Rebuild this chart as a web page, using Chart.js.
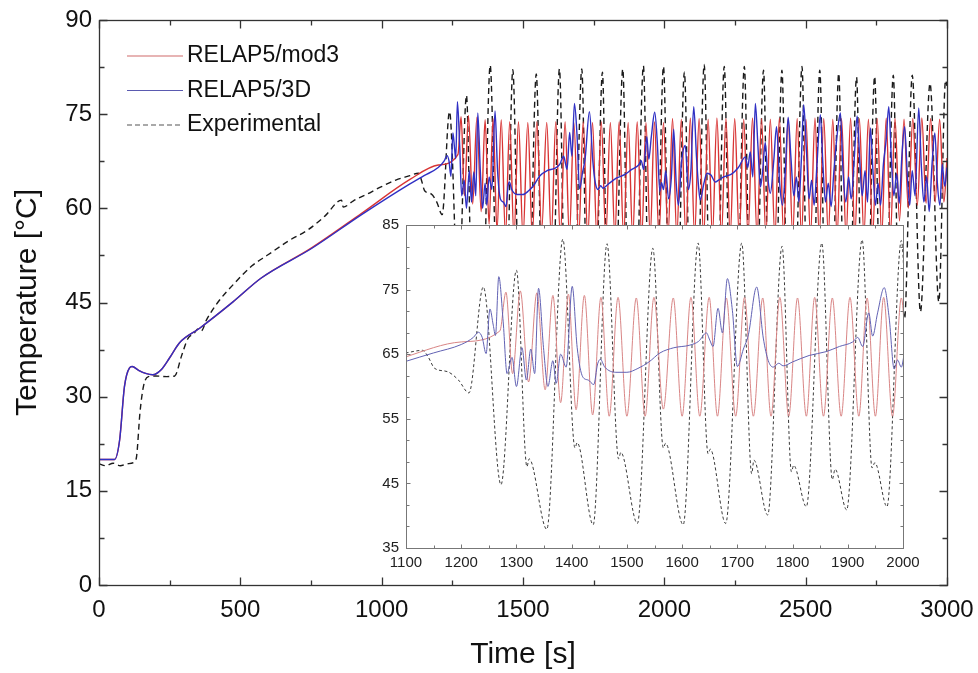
<!DOCTYPE html>
<html>
<head>
<meta charset="utf-8">
<script src="https://cdn.jsdelivr.net/npm/chart.js@4.4.1/dist/chart.umd.min.js"></script>
<style>
  html, body { margin: 0; padding: 0; background: #fff; }
  #wrap { position: relative; width: 978px; height: 673px; }
  #main { position: absolute; left: 0; top: 0; }
  #inset { position: absolute; left: 330px; top: 205px; }
</style>
</head>
<body>
<div id="wrap">
  <canvas id="main" width="978" height="673"></canvas>
  <canvas id="inset" width="620" height="385"></canvas>
</div>
<script>
// series names
const seriesNames = ["RELAP5/mod3", "RELAP5/3D", "Experimental"];

// RELAP5/mod3 (time s, temperature C)
const mod3Time = [0, 55, 73, 90, 108, 117, 140, 165, 190, 220, 250, 285, 356, 474, 574, 752, 929, 1100, 1200, 1270,
  1281, 1293, 1307, 1322, 1337, 1352, 1366, 1380, 1394, 1408, 1423, 1438, 1453, 1468, 1484, 1500, 1517, 1533, 1549, 1566,
  1584, 1600, 1616, 1632, 1649, 1664, 1680, 1697, 1713, 1729, 1746, 1761, 1777, 1793, 1809, 1825, 1840, 1856, 1872, 1888,
  1904, 1920, 1935, 1950, 1965, 1981, 1997,
  2013, 2029, 2044, 2060, 2076, 2092, 2107, 2123, 2139, 2155, 2170, 2186, 2202, 2218, 2233, 2249, 2265, 2281, 2296, 2312,
  2328, 2344, 2359, 2375, 2391, 2407, 2422, 2438, 2454, 2470, 2485, 2501, 2517, 2533, 2548, 2564, 2580, 2596, 2611, 2627,
  2643, 2659, 2674, 2690, 2706, 2722, 2737, 2753, 2769, 2785, 2800, 2816, 2832, 2848, 2863, 2879, 2895, 2911, 2926, 2942,
  2958, 2974, 2989, 3000];
const mod3Temp = [20.0, 20.0, 23.1, 31.6, 34.6, 34.8, 34.2, 33.7, 33.5, 34.3, 36.2, 38.6, 40.9, 45.1, 48.9, 53.7, 59.2, 64.6, 66.9, 68.6,
  74.6, 62.0, 74.8, 60.7, 74.5, 59.5, 74.1, 57.5, 74.3, 56.4, 74.1, 55.6, 73.8, 55.4, 73.8, 55.4, 73.7, 55.4, 73.8, 56.5,
  73.7, 55.4, 73.8, 55.4, 73.8, 55.4, 73.7, 55.4, 73.8, 55.4, 73.7, 55.4, 73.8, 55.4, 73.7, 55.4, 73.8, 55.4, 73.7, 55.4,
  73.8, 55.4, 73.7, 55.4, 73.8, 55.4, 73.7,
  55.5, 74.3, 55.4, 74.2, 55.6, 74.4, 55.5, 74.3, 55.4, 74.2, 55.5, 74.4, 55.6, 74.3, 55.5, 74.3, 55.4, 74.2, 55.5, 74.4,
  55.6, 74.3, 55.5, 74.2, 55.4, 74.4, 55.5, 74.3, 55.6, 74.3, 55.5, 74.2, 55.4, 74.4, 55.5, 74.3, 55.6, 74.2, 55.5, 74.3,
  55.4, 74.4, 55.5, 74.3, 55.6, 74.2, 55.5, 74.3, 55.6, 74.4, 55.8, 74.3, 58.0, 74.2, 60.0, 74.3, 60.5, 74.4, 60.8, 74.3,
  61.0, 74.2, 61.0, 68.0];

// RELAP5/3D
const r3dTime = [0, 55, 73, 90, 108, 117, 140, 165, 190, 220,
  250, 285, 356, 474, 574, 752, 929, 1100, 1150, 1200,
  1222, 1231, 1238, 1245, 1252, 1258, 1262, 1268, 1276, 1283,
  1292, 1300, 1310, 1318, 1326, 1333, 1340, 1349, 1357, 1366,
  1372, 1380, 1390, 1401, 1410, 1420, 1430, 1440, 1447, 1452,
  1460, 1480, 1500, 1520, 1540, 1560, 1585, 1614, 1630, 1644,
  1650, 1656, 1665, 1673, 1682, 1691, 1700, 1711, 1720, 1735,
  1747, 1756, 1765, 1775, 1783, 1800, 1830, 1861, 1885, 1909,
  1918, 1927, 1938, 1945, 1954, 1966, 1975, 1984, 1990, 1997,
  2005, 2015, 2025, 2033, 2042, 2050, 2060, 2074, 2085, 2094,
  2104, 2114, 2122, 2127, 2140, 2151, 2165, 2180, 2192, 2210,
  2239, 2262, 2287, 2295, 2304, 2313, 2322, 2331, 2340, 2348,
  2357, 2366, 2375, 2387, 2397, 2408, 2418, 2428, 2438, 2448,
  2458, 2467, 2476, 2485, 2493, 2503, 2512, 2521, 2530, 2540,
  2552, 2561, 2570, 2580, 2590, 2600, 2612, 2623, 2632, 2642,
  2652, 2661, 2672, 2682, 2692, 2700, 2710, 2719, 2729, 2738,
  2747, 2756, 2765, 2775, 2785, 2794, 2803, 2812, 2822, 2831,
  2840, 2850, 2860, 2868, 2877, 2887, 2900, 2909, 2918, 2928,
  2937, 2947, 2957, 2966, 2975, 2983, 2992, 3000];
const r3dTemp = [20.0, 20.0, 23.1, 31.6, 34.6, 34.8, 34.2, 33.7, 33.5, 34.3,
  36.2, 38.6, 40.9, 45.1, 48.9, 53.6, 59.0, 63.9, 65.2, 66.5,
  67.6, 68.4, 67.6, 65.1, 72.0, 69.5, 67.9, 77.0, 70.0, 62.0,
  64.5, 60.0, 66.0, 61.0, 65.8, 62.0, 75.2, 66.0, 60.0, 64.0,
  60.5, 65.0, 63.0, 75.5, 66.0, 61.5, 61.0, 60.3, 63.5, 64.2,
  63.0, 62.2, 62.2, 62.8, 63.8, 65.2, 66.0, 66.4, 67.0, 68.3,
  67.2, 66.2, 72.1, 68.3, 76.7, 71.8, 63.1, 65.8, 68.0, 75.4,
  67.5, 64.0, 63.0, 63.6, 63.2, 63.8, 64.8, 65.4, 66.2, 66.9,
  67.6, 66.2, 71.4, 67.8, 71.4, 75.3, 70.6, 62.7, 64.1, 63.0,
  66.0, 61.5, 65.0, 72.6, 64.0, 60.5, 67.0, 70.0, 63.0, 66.0,
  76.2, 68.0, 63.0, 61.3, 64.0, 65.6, 65.3, 64.2, 64.5, 65.0,
  65.5, 66.5, 68.2, 66.5, 69.0, 65.0, 76.7, 70.0, 63.4, 66.0,
  70.5, 65.0, 62.4, 67.5, 73.0, 64.0, 60.5, 66.0, 74.5, 68.0,
  62.0, 65.0, 61.0, 68.0, 76.5, 69.0, 61.5, 64.5, 60.5, 67.0,
  74.9, 67.0, 61.0, 64.0, 60.3, 66.0, 72.0, 75.2, 66.0, 61.0,
  65.0, 61.5, 68.0, 74.7, 67.0, 62.0, 66.0, 61.0, 72.8, 66.0,
  60.5, 64.0, 60.5, 67.0, 71.0, 76.2, 68.0, 62.0, 65.5, 60.8,
  68.0, 73.0, 65.0, 60.5, 66.0, 62.0, 76.0, 67.0, 61.0, 65.0,
  59.5, 67.0, 72.0, 64.0, 60.5, 67.0, 63.5, 66.5];

// Experimental
const expTime = [0, 25, 50, 75, 100, 125, 133, 145, 158, 175,
  200, 240, 268, 292, 315, 335, 350, 362, 380, 420,
  480, 540, 598, 670, 740, 800, 858, 864, 900, 950,
  988, 1050, 1100, 1130, 1140, 1152, 1175, 1195, 1214, 1240,
  1272, 1300, 1319, 1323, 1355, 1384, 1406, 1410, 1439, 1464,
  1485, 1489, 1519, 1547, 1566, 1570, 1602, 1629, 1647, 1651,
  1679, 1708, 1726, 1730, 1755, 1781, 1798, 1802, 1825, 1853,
  1872, 1877, 1898, 1926, 1944, 1949, 1971, 1997, 2016, 2020,
  2045, 2071, 2090, 2094, 2115, 2141, 2160, 2164, 2186, 2212,
  2231, 2235, 2256, 2283, 2302, 2306, 2325, 2351, 2368, 2372,
  2392, 2416, 2434, 2438, 2460, 2487, 2504, 2508, 2525, 2550,
  2568, 2572, 2592, 2617, 2634, 2638, 2655, 2680, 2697, 2701,
  2718, 2744, 2762, 2766, 2784, 2810, 2828, 2832, 2850, 2877,
  2906, 2940, 2971, 2995, 3000];
const expTemp = [19.3, 19.0, 19.4, 19.0, 19.3, 19.6, 20.5, 27.5, 31.8, 33.2,
  33.3, 33.2, 33.3, 36.5, 39.3, 40.0, 40.8, 40.5, 42.2, 45.0,
  48.1, 50.8, 52.6, 54.8, 56.6, 58.8, 61.3, 60.2, 61.2, 62.3,
  63.2, 64.5, 65.2, 65.6, 64.6, 62.8, 62.3, 61.0, 59.0, 75.4,
  44.8, 78.0, 47.6, 48.8, 37.9, 82.8, 50.5, 51.3, 38.6, 82.1,
  48.8, 49.8, 38.8, 81.4, 50.5, 51.2, 38.6, 82.2, 49.6, 50.3,
  38.8, 82.2, 46.5, 48.6, 40.1, 81.7, 46.8, 47.8, 41.4, 82.2,
  45.6, 47.2, 40.9, 82.7, 47.4, 48.2, 41.4, 82.6, 48.0, 49.0,
  40.5, 81.7, 48.0, 49.0, 40.0, 82.9, 48.0, 49.0, 40.5, 82.6,
  48.0, 49.0, 40.0, 82.6, 48.0, 49.0, 41.0, 82.0, 48.0, 49.0,
  41.0, 82.0, 48.0, 49.0, 40.5, 82.6, 48.0, 49.0, 41.0, 82.0,
  48.0, 49.0, 41.0, 81.5, 48.0, 49.0, 41.5, 80.9, 48.0, 49.0,
  41.5, 81.0, 48.0, 49.0, 42.0, 81.2, 48.0, 49.0, 42.5, 81.2,
  43.5, 79.9, 45.1, 80.4, 79.5];

// axis ticks
const mainXTicks = [0, 500, 1000, 1500, 2000, 2500, 3000];
const mainYTicks = [0, 15, 30, 45, 60, 75, 90];
const insetXTicks = [1100, 1200, 1300, 1400, 1500, 1600, 1700, 1800, 1900, 2000];
const insetYTicks = [35, 45, 55, 65, 75, 85];

const FONT = '"Liberation Sans", Arial, sans-serif';

function toPoints(xs, ys) {
  return xs.map((x, i) => ({ x: x, y: ys[i] }));
}

// minor ticks between majors
function between(majors, n) {
  const out = [];
  for (let i = 0; i < majors.length - 1; i++) {
    const step = (majors[i + 1] - majors[i]) / (n + 1);
    for (let k = 1; k <= n; k++) out.push(majors[i] + step * k);
  }
  return out;
}

// frame, inward ticks and optional white plot fill
const frameTicks = {
  id: "frameTicks",
  beforeDraw(chart, args, o) {
    if (!o.fill) return;
    const a = chart.chartArea, ctx = chart.ctx;
    ctx.save();
    ctx.fillStyle = o.fill;
    ctx.fillRect(a.left, a.top, a.right - a.left, a.bottom - a.top);
    ctx.restore();
  },
  afterDatasetsDraw(chart, args, o) {
    const { ctx, chartArea: a, scales } = chart;
    const L = Math.round(a.left) + 0.5, R = Math.round(a.right) + 0.5;
    const T = Math.round(a.top) + 0.5, B = Math.round(a.bottom) + 0.5;
    ctx.save();
    ctx.strokeStyle = o.color;
    ctx.lineWidth = o.width;
    ctx.beginPath();
    const xt = (vals, len) => vals.forEach((v) => {
      const p = Math.round(scales.x.getPixelForValue(v)) + 0.5;
      ctx.moveTo(p, B); ctx.lineTo(p, B - len);
      ctx.moveTo(p, T); ctx.lineTo(p, T + len);
    });
    const yt = (vals, len) => vals.forEach((v) => {
      const p = Math.round(scales.y.getPixelForValue(v)) + 0.5;
      ctx.moveTo(L, p); ctx.lineTo(L + len, p);
      ctx.moveTo(R, p); ctx.lineTo(R - len, p);
    });
    xt(o.xMajor, o.majorLen); xt(o.xMinor, o.minorLen);
    yt(o.yMajor, o.majorLen); yt(o.yMinor, o.minorLen);
    ctx.stroke();
    ctx.strokeRect(L, T, R - L, B - T);
    ctx.restore();
  }
};

// legend drawn in the upper left of the main plot
const legendBox = {
  id: "legendBox",
  afterDraw(chart) {
    const ctx = chart.ctx;
    const styles = [
      { color: "#d06a6a", dash: [] },
      { color: "#5a5ab0", dash: [] },
      { color: "#555", dash: [5, 3] }
    ];
    ctx.save();
    ctx.font = "23px " + FONT;
    ctx.textBaseline = "middle";
    ctx.fillStyle = "#111";
    seriesNames.forEach((name, i) => {
      const y = 56 + i * 34.5;
      ctx.strokeStyle = styles[i].color;
      ctx.lineWidth = 1.2;
      ctx.setLineDash(styles[i].dash);
      ctx.beginPath();
      ctx.moveTo(127, y); ctx.lineTo(183, y);
      ctx.stroke();
      ctx.fillText(name, 187, y);
    });
    ctx.restore();
  }
};

function makeSets(w, colors, dash) {
  return [
    { label: seriesNames[0], data: toPoints(mod3Time, mod3Temp), borderColor: colors[0], borderWidth: w, order: 1 },
    { label: seriesNames[1], data: toPoints(r3dTime, r3dTemp), borderColor: colors[1], borderWidth: w, order: 0 },
    { label: seriesNames[2], data: toPoints(expTime, expTemp), borderColor: colors[2], borderWidth: w, borderDash: dash, order: 2 }
  ].map((d) => Object.assign(d, { pointRadius: 0, fill: false, cubicInterpolationMode: "monotone" }));
}

const plain = (v) => String(v);

new Chart(document.getElementById("main"), {
  type: "line",
  data: { datasets: makeSets(1.4, ["#d83434", "#3030c4", "#1a1a1a"], [6, 4]) },
  options: {
    responsive: false,
    animation: false,
    devicePixelRatio: 1,
    layout: { padding: { top: 20, right: 31, left: 0, bottom: 0 } },
    plugins: {
      legend: { display: false },
      tooltip: { enabled: false },
      frameTicks: {
        color: "#333", width: 1.3, majorLen: 8, minorLen: 5,
        xMajor: mainXTicks, xMinor: between(mainXTicks, 1),
        yMajor: mainYTicks, yMinor: between(mainYTicks, 1)
      }
    },
    scales: {
      x: {
        type: "linear", min: 0, max: 3000,
        afterBuildTicks: (s) => { s.ticks = mainXTicks.map((v) => ({ value: v })); },
        afterFit: (s) => { s.height = 88; s.paddingLeft = 0; s.paddingRight = 0; },
        ticks: { padding: 11, color: "#111", font: { family: FONT, size: 24 }, autoSkip: false, maxRotation: 0, callback: plain },
        grid: { display: false, drawTicks: false },
        border: { display: false },
        title: { display: true, text: "Time [s]", color: "#111", font: { family: FONT, size: 30 }, padding: { top: 0, bottom: 0 } }
      },
      y: {
        type: "linear", min: 0, max: 90,
        afterBuildTicks: (s) => { s.ticks = mainYTicks.map((v) => ({ value: v })); },
        afterFit: (s) => { s.width = 99; s.paddingTop = 0; s.paddingBottom = 0; },
        ticks: { padding: 7, color: "#111", font: { family: FONT, size: 24 }, autoSkip: false, callback: plain },
        grid: { display: false, drawTicks: false },
        border: { display: false },
        title: { display: true, text: "Temperature [°C]", color: "#111", font: { family: FONT, size: 30 }, padding: { top: 10, bottom: 0 } }
      }
    }
  },
  plugins: [frameTicks, legendBox]
});

new Chart(document.getElementById("inset"), {
  type: "line",
  data: { datasets: makeSets(1, ["#d98585", "#6262b4", "#3a3a3a"], [3, 2.5]) },
  options: {
    responsive: false,
    animation: false,
    devicePixelRatio: 1,
    layout: { padding: { top: 20, right: 47, left: 0, bottom: 0 } },
    plugins: {
      legend: { display: false },
      tooltip: { enabled: false },
      frameTicks: {
        fill: "#fff", color: "#777", width: 1, majorLen: 4, minorLen: 3,
        xMajor: insetXTicks, xMinor: between(insetXTicks, 1),
        yMajor: insetYTicks, yMinor: between(insetYTicks, 2)
      }
    },
    scales: {
      x: {
        type: "linear", min: 1100, max: 2000,
        afterBuildTicks: (s) => { s.ticks = insetXTicks.map((v) => ({ value: v })); },
        afterFit: (s) => { s.height = 42; s.paddingLeft = 0; s.paddingRight = 0; },
        ticks: { padding: 6, color: "#222", font: { family: FONT, size: 15 }, autoSkip: false, maxRotation: 0, callback: plain },
        grid: { display: false, drawTicks: false },
        border: { display: false }
      },
      y: {
        type: "linear", min: 35, max: 85,
        afterBuildTicks: (s) => { s.ticks = insetYTicks.map((v) => ({ value: v })); },
        afterFit: (s) => { s.width = 76; s.paddingTop = 0; s.paddingBottom = 0; },
        ticks: { padding: 7, color: "#222", font: { family: FONT, size: 15 }, autoSkip: false, callback: plain },
        grid: { display: false, drawTicks: false },
        border: { display: false }
      }
    }
  },
  plugins: [frameTicks]
});
</script>
</body>
</html>
